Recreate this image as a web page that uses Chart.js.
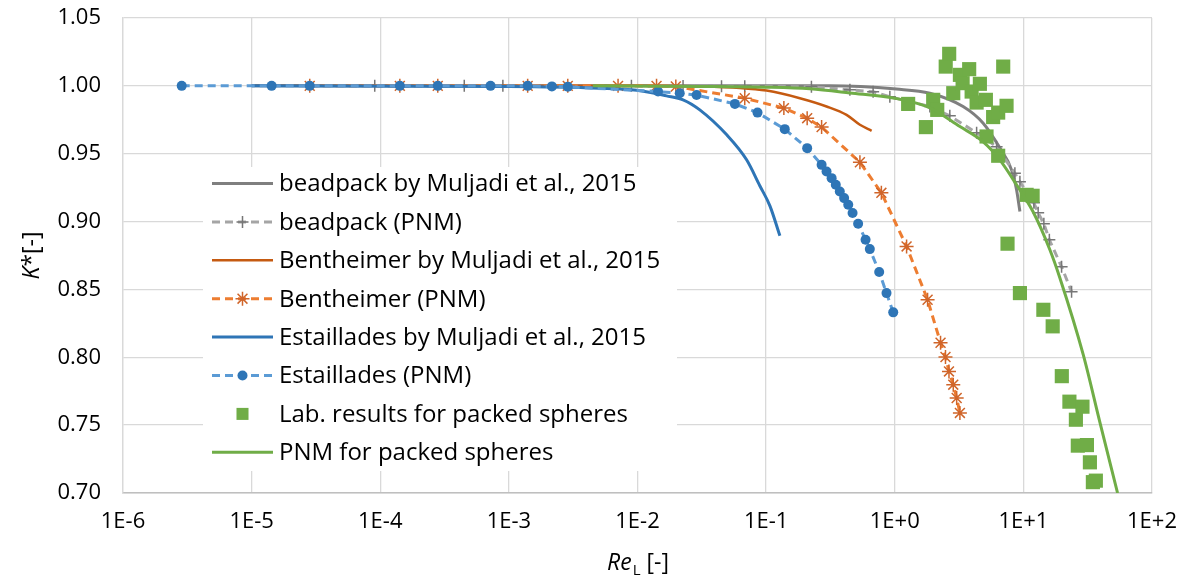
<!DOCTYPE html>
<html>
<head>
<meta charset="utf-8">
<script src="https://cdn.jsdelivr.net/npm/chart.js@4.4.1/dist/chart.umd.min.js"></script>
<style>
  html, body { margin: 0; padding: 0; background: #ffffff; }
  #wrap { width: 1191px; height: 579px; }
</style>
</head>
<body>
<div id="wrap"><canvas id="grafica" width="1191" height="579"></canvas></div>
<script>
// datos (Re_L, K*)
const beadMuljadiRe = [1e-5, 0.1, 0.313, 1.03, 1.875, 3.40, 4.87, 6.56, 8.09, 8.85, 9.40];
const beadMuljadiK = [1.000, 1.000, 1.000, 0.9976, 0.9946, 0.9848, 0.9725, 0.9543, 0.9381, 0.9234, 0.9074];

const beadPnmRe = [9.06e-5, 4.5e-4, 8.98e-4, 8.97e-3, 0.0226, 0.045, 0.0682, 0.225, 0.448, 0.679, 0.916, 1.875, 2.68, 4.33, 6.19, 8.59, 9.40, 12.07, 13.03, 14.43, 15.92, 19.82, 23.7];
const beadPnmK = [1.000, 1.000, 1.000, 1.000, 0.9999, 0.9998, 0.9997, 0.9993, 0.9971, 0.9956, 0.9919, 0.9848, 0.9779, 0.9654, 0.9551, 0.9356, 0.9293, 0.9138, 0.9065, 0.8984, 0.8866, 0.8667, 0.8483];

const bentMuljadiRe = [1e-5, 0.0099, 0.0305, 0.0625, 0.1007, 0.183, 0.295, 0.422, 0.536, 0.661];
const bentMuljadiK = [1.000, 1.000, 0.9996, 0.9985, 0.9965, 0.9909, 0.9848, 0.9786, 0.9713, 0.9669];

const bentPnmRe = [2.83e-5, 1.42e-4, 2.8e-4, 1.4e-3, 2.87e-3, 7.06e-3, 0.01406, 0.01986, 0.0682, 0.1374, 0.2085, 0.270, 0.536, 0.787, 1.236, 1.80, 2.27, 2.48, 2.64, 2.85, 3.03, 3.21];
const bentPnmK = [1.000, 1.000, 1.000, 1.000, 1.000, 1.000, 1.000, 0.9995, 0.9909, 0.9836, 0.9762, 0.9696, 0.9437, 0.9212, 0.8817, 0.8424, 0.8107, 0.8002, 0.7896, 0.7798, 0.7700, 0.7590];

const estMuljadiRe = [1e-5, 1e-3, 5.09e-3, 9.9e-3, 0.0168, 0.0226, 0.0305, 0.0494, 0.0705, 0.0893, 0.107, 0.128];
const estMuljadiK = [1.000, 0.9996, 0.9983, 0.9967, 0.9926, 0.9897, 0.9823, 0.9639, 0.9455, 0.9264, 0.9116, 0.8895];

const estPnmRe = [2.86e-6, 1.43e-5, 2.83e-5, 1.42e-4, 2.8e-4, 7.2e-4, 1.4e-3, 2.16e-3, 2.87e-3, 0.01445, 0.0213, 0.0288, 0.0572, 0.0857, 0.1396, 0.2085, 0.270, 0.295, 0.323, 0.348, 0.374, 0.404, 0.435, 0.470, 0.519, 0.593, 0.640, 0.757, 0.863, 0.973];
const estPnmK = [1.000, 1.000, 1.000, 1.000, 1.000, 1.000, 1.000, 0.9996, 0.9993, 0.9958, 0.9946, 0.9932, 0.9867, 0.9803, 0.9681, 0.9541, 0.9418, 0.9369, 0.9320, 0.9271, 0.9222, 0.9173, 0.9124, 0.9063, 0.8984, 0.8866, 0.8797, 0.8628, 0.8473, 0.8331];

const labRe = [1.271, 1.746, 1.99, 2.14, 2.49, 2.65, 2.85, 3.21, 3.37, 3.79, 3.96, 4.33, 4.59, 5.11, 5.17, 5.82, 6.37, 6.37, 6.97, 7.40, 7.53, 9.40, 10.6, 11.8, 14.3, 16.9, 19.9, 22.8, 28.8, 25.6, 26.5, 31.2, 32.9, 36.6, 34.7];
const labK = [0.9867, 0.9696, 0.9897, 0.9823, 1.0142, 1.0236, 0.9946, 1.0081, 1.0020, 1.0123, 0.9958, 0.9877, 1.0015, 0.9897, 0.9627, 0.9770, 0.9803, 0.9485, 1.0142, 0.9853, 0.8837, 0.8473, 0.9197, 0.9190, 0.8350, 0.8228, 0.7861, 0.7673, 0.7636, 0.7540, 0.7349, 0.7353, 0.7226, 0.7091, 0.7080];

const sphPnmRe = [4.5e-3, 0.0305, 0.1, 0.219, 0.448, 1.0, 1.875, 3.21, 4.87, 6.56, 8.85, 11.9, 16.07, 19.2, 29.2, 39.4, 54];
const sphPnmK = [1.000, 0.9996, 0.999, 0.9978, 0.9948, 0.9909, 0.9838, 0.9700, 0.9588, 0.9455, 0.9271, 0.9072, 0.8792, 0.8586, 0.8019, 0.7518, 0.700];

const etiquetas = [
    'beadpack by Muljadi et al., 2015',
    'beadpack (PNM)',
    'Bentheimer by Muljadi et al., 2015',
    'Bentheimer (PNM)',
    'Estaillades by Muljadi et al., 2015',
    'Estaillades (PNM)',
    'Lab. results for packed spheres',
    'PNM for packed spheres'
];

const xTicks = [1e-6, 1e-5, 1e-4, 1e-3, 1e-2, 1e-1, 1e0, 1e1, 1e2];
const xTickLabels = ['1E-6', '1E-5', '1E-4', '1E-3', '1E-2', '1E-1', '1E+0', '1E+1', '1E+2'];
const yTicks = [0.70, 0.75, 0.80, 0.85, 0.90, 0.95, 1.00, 1.05];

const fuente = '"Open Sans", Lato, sans-serif';

const serie = (xs, ys) => xs.map((x, i) => ({ x: x, y: ys[i] }));

const datasets = [
    { data: serie(beadMuljadiRe, beadMuljadiK), showLine: true, borderColor: '#7F7F7F', borderWidth: 3, pointRadius: 0, cubicInterpolationMode: 'monotone' },
    { data: serie(beadPnmRe, beadPnmK), showLine: true, borderColor: '#A5A5A5', borderWidth: 3, borderDash: [8, 5],
      pointStyle: 'cross', pointRadius: 6, pointBorderColor: '#767676', pointBackgroundColor: '#767676', pointBorderWidth: 1.5 },
    { data: serie(bentMuljadiRe, bentMuljadiK), showLine: true, borderColor: '#C55A11', borderWidth: 2.5, pointRadius: 0, cubicInterpolationMode: 'monotone' },
    { data: serie(bentPnmRe, bentPnmK), showLine: true, borderColor: '#ED7D31', borderWidth: 3, borderDash: [8, 5],
      pointStyle: 'star', pointRadius: 7, pointBorderColor: '#D0652A', pointBackgroundColor: '#D0652A', pointBorderWidth: 1.5 },
    { data: serie(estMuljadiRe, estMuljadiK), showLine: true, borderColor: '#2E75B6', borderWidth: 3, pointRadius: 0, cubicInterpolationMode: 'monotone' },
    { data: serie(estPnmRe, estPnmK), showLine: true, borderColor: '#5B9BD5', borderWidth: 3, borderDash: [8, 5],
      pointStyle: 'circle', pointRadius: 5, pointBorderWidth: 0, pointBackgroundColor: '#2E75B6', pointBorderColor: '#2E75B6' },
    { data: serie(labRe, labK), showLine: false, pointStyle: 'rect', pointRadius: 10, pointBorderWidth: 0,
      pointBackgroundColor: '#70AD47', pointBorderColor: '#70AD47', borderColor: '#70AD47' },
    { data: serie(sphPnmRe, sphPnmK), showLine: true, borderColor: '#70AD47', borderWidth: 3, pointRadius: 0, cubicInterpolationMode: 'monotone' }
];
datasets.forEach((d, i) => {
    d.label = etiquetas[i];
    d.order = datasets.length - i; // la ultima serie queda encima, como en Excel
    d.fill = false;
});

// leyenda dentro del area de la grafica
const leyendaInterna = {
    id: 'leyendaInterna',
    afterDatasetsDraw(chart) {
        const ctx = chart.ctx;
        const area = chart.chartArea;
        const x0 = area.left + 80;
        const y0 = area.top + 149;
        ctx.save();
        ctx.fillStyle = '#ffffff';
        ctx.fillRect(x0, y0, 474, 304);
        chart.data.datasets.forEach((ds, i) => {
            const y = y0 + 16.5 + i * 38.4;
            const xa = x0 + 9, xb = x0 + 70;
            if (ds.showLine) {
                ctx.save();
                ctx.strokeStyle = ds.borderColor;
                ctx.lineWidth = ds.borderWidth;
                ctx.setLineDash(ds.borderDash || []);
                ctx.beginPath();
                ctx.moveTo(xa, y);
                ctx.lineTo(xb, y);
                ctx.stroke();
                ctx.restore();
            }
            if (ds.pointRadius > 0) {
                ctx.save();
                ctx.fillStyle = ds.pointBackgroundColor;
                ctx.strokeStyle = ds.pointBorderColor;
                ctx.lineWidth = ds.pointBorderWidth;
                const r = ds.pointStyle === 'rect' ? 8.5 : ds.pointRadius;
                Chart.helpers.drawPoint(ctx, { pointStyle: ds.pointStyle, radius: r, rotation: 0, borderWidth: ds.pointBorderWidth }, (xa + xb) / 2, y);
                ctx.restore();
            }
            ctx.fillStyle = '#000000';
            ctx.font = '24px ' + fuente;
            ctx.textBaseline = 'middle';
            ctx.textAlign = 'left';
            ctx.fillText(ds.label, x0 + 76, y + 1);
        });
        ctx.restore();
    }
};

// titulos de los ejes con cursiva y subindice
const titulosEjes = {
    id: 'titulosEjes',
    afterDraw(chart) {
        const ctx = chart.ctx;
        const area = chart.chartArea;
        ctx.save();
        ctx.fillStyle = '#000000';
        ctx.textBaseline = 'alphabetic';
        ctx.textAlign = 'left';

        // eje y: K*[-]
        ctx.save();
        ctx.translate(39, (area.top + area.bottom) / 2);
        ctx.rotate(-Math.PI / 2);
        ctx.font = 'italic 23px ' + fuente;
        const wK = ctx.measureText('K').width;
        ctx.font = '23px ' + fuente;
        const wR = ctx.measureText('*[-]').width;
        const px = -(wK + wR) / 2;
        ctx.font = 'italic 23px ' + fuente;
        ctx.fillText('K', px, 0);
        ctx.font = '23px ' + fuente;
        ctx.fillText('*[-]', px + wK, 0);
        ctx.restore();

        // eje x: Re_L [-]
        const cx = (area.left + area.right) / 2;
        const by = 570;
        ctx.font = 'italic 23px ' + fuente;
        const wRe = ctx.measureText('Re').width;
        ctx.font = '15px ' + fuente;
        const wL = ctx.measureText('L').width;
        ctx.font = '23px ' + fuente;
        const wU = ctx.measureText(' [-]').width;
        const sx = cx - (wRe + wL + wU) / 2;
        ctx.font = 'italic 23px ' + fuente;
        ctx.fillText('Re', sx, by);
        ctx.font = '15px ' + fuente;
        ctx.fillText('L', sx + wRe + 1, by + 5);
        ctx.font = '23px ' + fuente;
        ctx.fillText(' [-]', sx + wRe + wL + 1, by);
        ctx.restore();
    }
};

new Chart(document.getElementById('grafica'), {
    type: 'scatter',
    data: { datasets: datasets },
    options: {
        responsive: false,
        animation: false,
        events: [],
        layout: { padding: { top: 18, right: 39, left: 0, bottom: 0 } },
        plugins: {
            legend: { display: false },
            tooltip: { enabled: false }
        },
        scales: {
            x: {
                type: 'logarithmic',
                min: 1e-6,
                max: 1e2,
                afterBuildTicks: (scale) => { scale.ticks = xTicks.map(v => ({ value: v })); },
                afterFit: (scale) => { scale.height = 86; scale.paddingLeft = 0; scale.paddingRight = 0; },
                ticks: {
                    autoSkip: false,
                    maxRotation: 0,
                    padding: 16,
                    color: '#000000',
                    font: { family: fuente, size: 22 },
                    callback: (value, index) => xTickLabels[index]
                },
                grid: { color: '#D9D9D9', lineWidth: 1.3, drawTicks: false, tickLength: 0 },
                border: { color: '#BFBFBF', width: 1.5 }
            },
            y: {
                min: 0.70,
                max: 1.05,
                afterBuildTicks: (scale) => { scale.ticks = yTicks.map(v => ({ value: v })); },
                afterFit: (scale) => { scale.width = 123; scale.paddingTop = 0; scale.paddingBottom = 0; },
                ticks: {
                    padding: 22,
                    color: '#000000',
                    font: { family: fuente, size: 22 },
                    callback: (value) => Number(value).toFixed(2)
                },
                grid: { color: '#D9D9D9', lineWidth: 1.3, drawTicks: false, tickLength: 0 },
                border: { color: '#D9D9D9', width: 1.3 }
            }
        }
    },
    plugins: [leyendaInterna, titulosEjes]
});
</script>
</body>
</html>
